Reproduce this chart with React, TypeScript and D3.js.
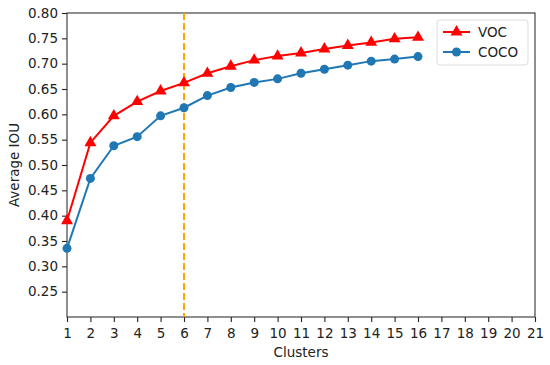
import React, { useEffect, useRef } from 'react';
import * as d3 from 'd3';

const clusters = [1, 2, 3, 4, 5, 6, 7, 8, 9, 10, 11, 12, 13, 14, 15, 16];
const vocValues = [0.39, 0.544, 0.597, 0.625, 0.646, 0.662, 0.681, 0.695, 0.707, 0.715, 0.721, 0.729, 0.736, 0.742, 0.749, 0.752];
const cocoValues = [0.3355, 0.4735, 0.538, 0.556, 0.597, 0.613, 0.637, 0.653, 0.663, 0.670, 0.681, 0.689, 0.697, 0.705, 0.709, 0.714];
const xTicks = d3.range(1, 22);
const yTicks = [0.25, 0.3, 0.35, 0.4, 0.45, 0.5, 0.55, 0.6, 0.65, 0.7, 0.75, 0.8];
const cutoff = 6;

const FONT = 'DejaVu Sans, sans-serif';

function Chart() {
  const ref = useRef<SVGSVGElement>(null);

  useEffect(() => {
    const svg = d3.select(ref.current);
    svg.selectAll('*').remove();

    const width = 550, height = 365;
    const margin = { top: 13, right: 15, bottom: 48, left: 67 };
    svg.attr('width', width).attr('height', height);

    const x = d3.scaleLinear().domain([1, 21]).range([margin.left, width - margin.right]);
    const y = d3.scaleLinear().domain([0.2, 0.8]).range([height - margin.bottom, margin.top]);

    const xAxis = svg.append('g')
      .attr('transform', `translate(0,${height - margin.bottom})`)
      .call(d3.axisBottom(x).tickValues(xTicks).tickFormat(d3.format('d')).tickSize(5).tickPadding(6));
    const yAxis = svg.append('g')
      .attr('transform', `translate(${margin.left},0)`)
      .call(d3.axisLeft(y).tickValues(yTicks).tickFormat(d3.format('.2f')).tickSize(5).tickPadding(4));

    [xAxis, yAxis].forEach(g => {
      g.select('.domain').remove();
      g.selectAll('line').attr('stroke', '#222').attr('stroke-width', 1.1);
      g.selectAll('text').attr('fill', '#222').style('font-family', FONT).style('font-size', '13.5px');
    });

    // frame
    svg.append('rect')
      .attr('x', margin.left).attr('y', margin.top)
      .attr('width', width - margin.right - margin.left)
      .attr('height', height - margin.bottom - margin.top)
      .attr('fill', 'none').attr('stroke', '#333').attr('stroke-width', 1.1);

    // cutoff line
    svg.append('line')
      .attr('x1', x(cutoff)).attr('x2', x(cutoff))
      .attr('y1', margin.top).attr('y2', height - margin.bottom)
      .attr('stroke', '#FFA500').attr('stroke-width', 2)
      .attr('stroke-dasharray', '7,3');

    const line = d3.line<number>().x((_, i) => x(clusters[i])).y(d => y(d));
    const tri = d3.symbol().type(d3.symbolTriangle).size(62);

    // COCO
    svg.append('path').datum(cocoValues).attr('d', line)
      .attr('fill', 'none').attr('stroke', '#1f77b4').attr('stroke-width', 2);
    svg.selectAll('.coco').data(cocoValues).enter().append('circle')
      .attr('cx', (_, i) => x(clusters[i])).attr('cy', d => y(d)).attr('r', 4.5)
      .attr('fill', '#1f77b4');

    // VOC
    svg.append('path').datum(vocValues).attr('d', line)
      .attr('fill', 'none').attr('stroke', 'red').attr('stroke-width', 2);
    svg.selectAll('.voc').data(vocValues).enter().append('path')
      .attr('d', tri)
      .attr('transform', (d, i) => `translate(${x(clusters[i])},${y(d)})`)
      .attr('fill', 'red');

    // legend
    const lg = svg.append('g').attr('transform', 'translate(437,20)');
    lg.append('rect').attr('width', 91).attr('height', 45).attr('rx', 3)
      .attr('fill', 'white').attr('stroke', '#ddd').attr('stroke-width', 1);
    const items = [
      { label: 'VOC', color: 'red', shape: 'tri' },
      { label: 'COCO', color: '#1f77b4', shape: 'circle' },
    ];
    items.forEach((it, i) => {
      const cy = 12 + i * 20;
      lg.append('line').attr('x1', 6).attr('x2', 33).attr('y1', cy).attr('y2', cy)
        .attr('stroke', it.color).attr('stroke-width', 2);
      if (it.shape === 'tri') {
        lg.append('path').attr('d', tri).attr('transform', `translate(19.5,${cy})`).attr('fill', it.color);
      } else {
        lg.append('circle').attr('cx', 19.5).attr('cy', cy).attr('r', 4.5).attr('fill', it.color);
      }
      lg.append('text').attr('x', 41).attr('y', cy).attr('dy', '0.35em')
        .text(it.label).attr('fill', '#222')
        .style('font-family', FONT).style('font-size', '13.5px');
    });

    svg.append('text')
      .attr('x', (margin.left + width - margin.right) / 2).attr('y', height - 8)
      .attr('text-anchor', 'middle').text('Clusters').attr('fill', '#222')
      .style('font-family', FONT).style('font-size', '13.5px');

    svg.append('text')
      .attr('transform', 'rotate(-90)')
      .attr('x', -(margin.top + height - margin.bottom) / 2).attr('y', 19)
      .attr('text-anchor', 'middle').text('Average IOU').attr('fill', '#222')
      .style('font-family', FONT).style('font-size', '13.5px');
  }, []);

  return <svg ref={ref} style={{ position: 'absolute', left: 0, top: 0 }}></svg>;
}

export default function App() {
  return <Chart />;
}
